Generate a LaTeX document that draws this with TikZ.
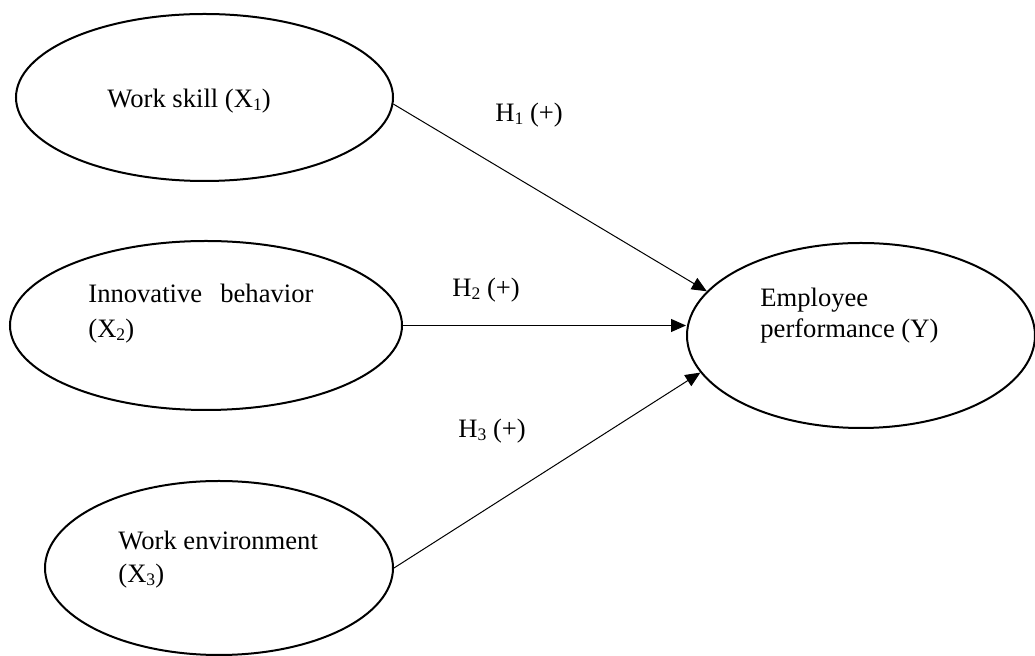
\documentclass[tikz,border=0pt]{standalone}
\usepackage{fontspec}
\setmainfont{Liberation Serif}
\usetikzlibrary{shapes.geometric,arrows.meta}
\newcommand{\lowsub}[1]{\raisebox{-1.3pt}{\fontsize{8.8}{10}\selectfont #1}}
\begin{document}
\begin{tikzpicture}[x=0.5pt,y=-0.5pt,
  latent/.style={draw,ellipse,line width=1pt,inner sep=0pt},
  lbl/.style={anchor=base west,inner sep=0pt,font=\fontsize{13.3}{17}\selectfont},
  arr/.style={line width=0.5pt,-{Triangle[length=7.5pt,width=6.5pt]}}]
\useasboundingbox (0,0) rectangle (1035,656);
% latent variables
\node[latent,minimum width=188.5pt,minimum height=83.5pt] (ws) at (204.5,97.5) {};
\node[latent,minimum width=196pt,minimum height=84.5pt] (ib) at (206,325.5) {};
\node[latent,minimum width=174pt,minimum height=87pt] (we) at (219,568) {};
\node[latent,minimum width=174pt,minimum height=92.5pt] (ep) at (861,335.5) {};
% labels in ellipses
\node[lbl] (tws) at (107,108) {Work skill (X\lowsub{1})};
\node[lbl] (tib1) at (88,303) {Innovative\hspace{9.1pt}behavior};
\node[lbl] (tib2) at (88,338) {(X\lowsub{2})};
\node[lbl] (twe1) at (118,550) {Work environment};
\node[lbl] (twe2) at (118,583) {(X\lowsub{3})};
\node[lbl] (tep1) at (760,307) {Employee};
\node[lbl] (tep2) at (760,338) {performance (Y)};
% hypothesis labels
\node[lbl] (h1) at (495,122) {H\lowsub{1} (+)};
\node[lbl] (h2) at (452,297) {H\lowsub{2} (+)};
\node[lbl] (h3) at (458,438) {H\lowsub{3} (+)};
% paths
\draw[arr] (ws.-2) -- (ep.164);
\draw[arr] (ib.east) -- (ib.east -| ep.west);
\draw[arr] (we.east) -- (ep.193);
\end{tikzpicture}
\end{document}
